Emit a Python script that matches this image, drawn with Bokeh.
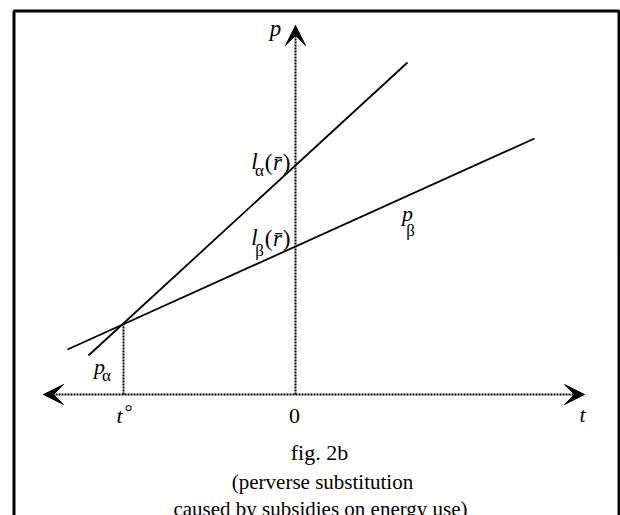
from bokeh.plotting import figure
from bokeh.models import Range1d, Arrow, VeeHead
from bokeh.core.properties import value
from bokeh.embed import file_html
from bokeh.resources import INLINE

# Schematic data (t: horizontal, p: vertical), origin at axes crossing
t_alpha = [-207, 112]
p_alpha = [39, 332]
t_beta = [-228, 239]
p_beta = [45, 256]
t_star = -172
p_star = 71
t_axis = [-252, 289]
p_axis = [0, 369]

FONT = value("Liberation Serif")

p = figure(width=620, height=515, x_range=Range1d(-295, 325), y_range=Range1d(-121, 394),
           output_backend="svg", toolbar_location=None, min_border=0)
p.axis.visible = False
p.grid.visible = False
p.outline_line_color = None
p.background_fill_color = "white"
p.border_fill_color = "white"

# frame
p.quad(left=[-281.5], right=[323.5], top=[383.5], bottom=[-140], fill_color=None,
       line_color="black", line_width=3)

# axes (dotted with arrowheads)
p.add_layout(Arrow(x_start=t_axis[0], x_end=t_axis[1], y_start=0, y_end=0,
                   line_dash="2 1", line_width=2, line_color="black",
                   start=VeeHead(size=20, fill_color="black", line_color="black", line_width=1),
                   end=VeeHead(size=20, fill_color="black", line_color="black", line_width=1)))
p.add_layout(Arrow(x_start=0, x_end=0, y_start=p_axis[0], y_end=p_axis[1],
                   line_dash="2 1", line_width=2, line_color="black",
                   end=VeeHead(size=20, fill_color="black", line_color="black", line_width=1)))

# t° drop line
p.line([t_star, t_star], [0, p_star], line_dash="2 1", line_width=2, color="black")

# price lines
p.line(t_alpha, p_alpha, line_width=1.8, color="black")
p.line(t_beta, p_beta, line_width=1.8, color="black")

def txt(x, y, s, size="21px", style="normal", align="center"):
    p.text(x=[x], y=[y], text=[s], text_font=FONT, text_font_size=size,
           text_font_style=style, text_align=align, text_baseline="middle", text_color="black")

# axis labels
txt(-20, 366, "p", size="23px", style="italic")
txt(287, -20, "t", size="22px", style="italic")
txt(-176, -21, "t", size="22px", style="italic")
txt(-167, -17, "°", size="20px")
txt(-1, -21, "0", size="22px")

# line labels
txt(-196, 28, "p", size="22px", style="italic")
txt(-189, 19, "α", size="17px")
txt(112, 181, "p", size="22px", style="italic")
txt(115, 164, "β", size="17px")

# l_alpha(r-bar)
txt(-41, 233, "l", size="23px", style="italic")
txt(-36, 224, "α", size="17px")
txt(-27, 232, "(", size="23px")
txt(-18, 232, "r\u0304", size="23px", style="italic")
txt(-9, 232, ")", size="23px")
# l_beta(r-bar)
txt(-41, 157, "l", size="23px", style="italic")
txt(-36, 144, "β", size="17px")
txt(-27, 156, "(", size="23px")
txt(-18, 156, "r\u0304", size="23px", style="italic")
txt(-9, 156, ")", size="23px")

# caption
txt(24, -58, "fig. 2b", size="22px")
txt(27, -87, "(perverse substitution")
txt(25, -114, "caused by subsidies on energy use)")

open("out.html", "w").write(file_html(p, INLINE))
